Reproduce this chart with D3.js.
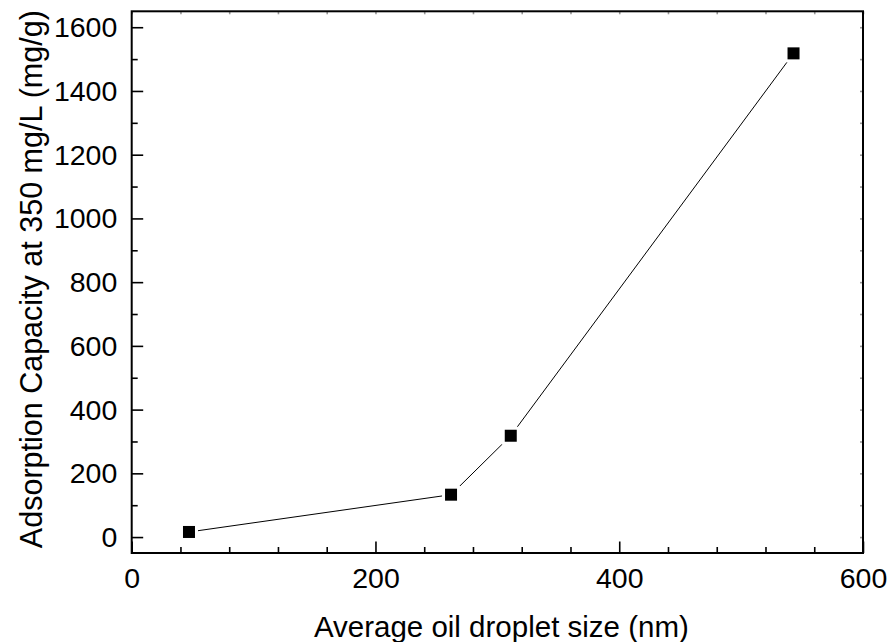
<!DOCTYPE html>
<html>
<head>
<meta charset="utf-8">
<script src="https://cdn.jsdelivr.net/npm/d3@7"></script>
<style>
  html, body { margin: 0; padding: 0; background: #fff; }
  svg { display: block; }
  text { font-family: "Liberation Sans", Arial, sans-serif; fill: #000; }
</style>
</head>
<body>
<svg id="chart" width="889" height="642"></svg>
<script>
const dropletSize = [47, 262, 311, 543];
const adsorption = [16, 133, 318, 1518];
const xMajorTicks = [0, 200, 400, 600];
const yMajorTicks = [0, 200, 400, 600, 800, 1000, 1200, 1400, 1600];
const xTitle = "Average oil droplet size (nm)";
const yTitle = "Adsorption Capacity at 350 mg/L (mg/g)";

const W = 889, H = 642;
const m = { left: 131.7, right: 863, top: 11.3, bottom: 553 };
const svg = d3.select("#chart");

const x = d3.scaleLinear().domain([0, 600]).range([m.left, m.right]);
const y = d3.scaleLinear().domain([-50, 1650]).range([m.bottom, m.top]);

const xMinor = d3.range(0, 601, 40).filter(v => v % 200 !== 0);
const yMinor = d3.range(100, 1650, 200);

// bottom axis (ticks inward)
const gx = svg.append("g").attr("transform", `translate(0,${m.bottom})`);
gx.call(d3.axisBottom(x).tickValues(xMajorTicks).tickSizeInner(-11.5).tickSizeOuter(0).tickPadding(24).tickFormat(d3.format("d")));
gx.append("g").call(d3.axisBottom(x).tickValues(xMinor).tickSizeInner(-6).tickSizeOuter(0).tickFormat(""));
gx.selectAll("text").style("font-size", "28.5px").attr("dy", "0.71em").attr("y", 15);

// left axis
const gy = svg.append("g").attr("transform", `translate(${m.left},0)`);
gy.call(d3.axisLeft(y).tickValues(yMajorTicks).tickSizeInner(-11.5).tickSizeOuter(0).tickPadding(26).tickFormat(d3.format("d")));
gy.append("g").call(d3.axisLeft(y).tickValues(yMinor).tickSizeInner(-6).tickSizeOuter(0).tickFormat(""));
gy.selectAll("text").style("font-size", "28.5px").attr("x", -14.4).attr("dy", "0.33em");

// top axis (faint short ticks)
const gt = svg.append("g").attr("transform", `translate(0,${m.top})`);
gt.call(d3.axisTop(x).tickValues(d3.range(0, 601, 40)).tickSizeInner(-3).tickSizeOuter(0).tickFormat(""));
gt.selectAll(".tick line").attr("stroke", "#999");
// right axis
const gr = svg.append("g").attr("transform", `translate(${m.right},0)`);
gr.call(d3.axisRight(y).tickValues(d3.range(0, 1650, 100)).tickSizeInner(-3).tickSizeOuter(0).tickFormat(""));
gr.selectAll(".tick line").attr("stroke", "#999");

svg.selectAll(".tick line").attr("stroke-width", 1.6);
svg.selectAll(".domain").remove();

// frame
svg.append("rect")
  .attr("x", m.left).attr("y", m.top)
  .attr("width", m.right - m.left).attr("height", m.bottom - m.top)
  .attr("fill", "none").attr("stroke", "#000").attr("stroke-width", 2);

const data = dropletSize.map((d, i) => ({ x: d, y: adsorption[i] }));

// line
svg.append("path").datum(data)
  .attr("fill", "none").attr("stroke", "#000").attr("stroke-width", 1)
  .attr("d", d3.line().x(d => x(d.x)).y(d => y(d.y)));

// white halo to create gap around markers
const s = 12, gap = 3;
svg.selectAll("rect.halo").data(data).enter().append("rect")
  .attr("class", "halo")
  .attr("x", d => x(d.x) - s / 2 - gap).attr("y", d => y(d.y) - s / 2 - gap)
  .attr("width", s + 2 * gap).attr("height", s + 2 * gap)
  .attr("fill", "#fff");
svg.selectAll("rect.pt").data(data).enter().append("rect")
  .attr("class", "pt")
  .attr("x", d => x(d.x) - s / 2).attr("y", d => y(d.y) - s / 2)
  .attr("width", s).attr("height", s)
  .attr("fill", "#000");

// titles
svg.append("text")
  .attr("x", (m.left + m.right) / 2 + 4).attr("y", 637)
  .attr("text-anchor", "middle").style("font-size", "29.5px")
  .text(xTitle);
svg.append("text")
  .attr("transform", `translate(42,${(m.top + m.bottom) / 2 - 3}) rotate(-90)`)
  .attr("text-anchor", "middle").style("font-size", "30.5px")
  .text(yTitle);
</script>
</body>
</html>
